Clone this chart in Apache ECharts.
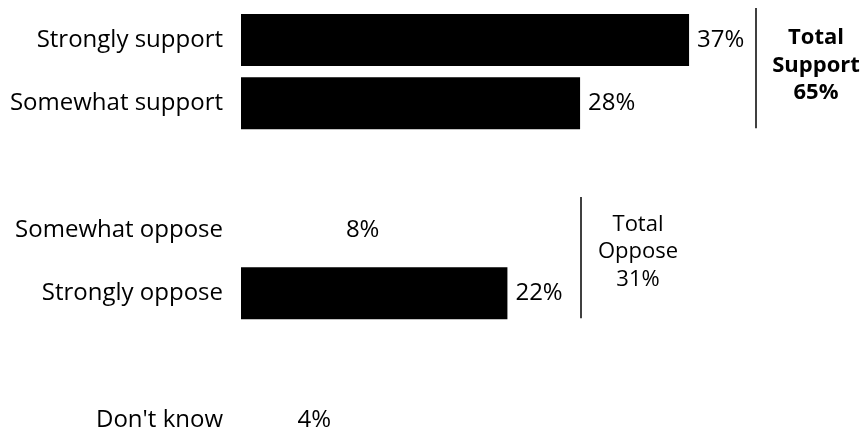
<!DOCTYPE html>
<html>
<head>
<meta charset="utf-8">
<script src="https://cdn.jsdelivr.net/npm/echarts@6/dist/echarts.min.js"></script>
<style>
  html, body { margin: 0; padding: 0; background: #fff; }
  #chart { width: 863px; height: 432px; }
</style>
</head>
<body>
<div id="chart"></div>
<script>
// Survey responses, top to bottom (blank rows separate the groups)
const categories = ['Strongly support', 'Somewhat support', '', 'Somewhat oppose', 'Strongly oppose', '', "Don't know"];
const values = [37, 28, null, 8, 22, null, 4];
// Which rows get a filled bar
const filled = [true, true, false, false, true, false, false];
// Group totals shown beside the brackets
const groupNames = ['Support', 'Oppose'];
const groupTotals = [65, 31];
const groupRows = [[0, 1], [3, 4]];

const FONT = '"Open Sans", "DejaVu Sans", sans-serif';
const chart = echarts.init(document.getElementById('chart'));

chart.setOption({
  animation: false,
  backgroundColor: '#fff',
  // rows are placed edge-to-edge: first row centre at top, last at bottom
  grid: { left: 241, top: 40, right: 137.6, bottom: 11.6, containLabel: false },
  xAxis: {
    type: 'value', min: 0, max: 40,
    show: false
  },
  yAxis: {
    type: 'category',
    data: categories,
    inverse: true,
    boundaryGap: false,
    axisLine: { show: false },
    axisTick: { show: false },
    axisLabel: { color: '#000', fontFamily: FONT, fontSize: 24, margin: 18 }
  },
  series: [{
    type: 'bar',
    data: values.map((v, i) => ({
      value: v,
      itemStyle: { color: filled[i] ? '#000' : 'rgba(0,0,0,0)' }
    })),
    barWidth: 52,
    label: {
      show: true, position: 'right', distance: 8,
      color: '#000', fontFamily: FONT, fontSize: 24,
      formatter: p => p.value == null ? '' : p.value + '%'
    }
  }]
});

// Brackets and totals beside each group
const graphics = [];
const bracketX = [756, 581];
const bracketTopOffset = [32, 33];
const textX = [816, 638];
const textShift = [-6, -9.5];
groupRows.forEach((rows, g) => {
  const yTop = chart.convertToPixel({ yAxisIndex: 0 }, categories[rows[0]]);
  const yBot = chart.convertToPixel({ yAxisIndex: 0 }, categories[rows[1]]);
  graphics.push({
    type: 'line',
    shape: { x1: bracketX[g], y1: yTop - bracketTopOffset[g], x2: bracketX[g], y2: yBot + 25 },
    style: { stroke: '#000', lineWidth: 1.5 }
  });
  graphics.push({
    type: 'text',
    x: textX[g], y: (yTop + yBot) / 2 + textShift[g],
    style: {
      text: 'Total\n' + groupNames[g] + '\n' + groupTotals[g] + '%',
      align: 'center', verticalAlign: 'middle',
      fontFamily: FONT, fontSize: 22, lineHeight: 27.5,
      fontWeight: g === 0 ? 'bold' : 'normal',
      fill: '#000'
    }
  });
});
chart.setOption({ graphic: graphics });
</script>
</body>
</html>
